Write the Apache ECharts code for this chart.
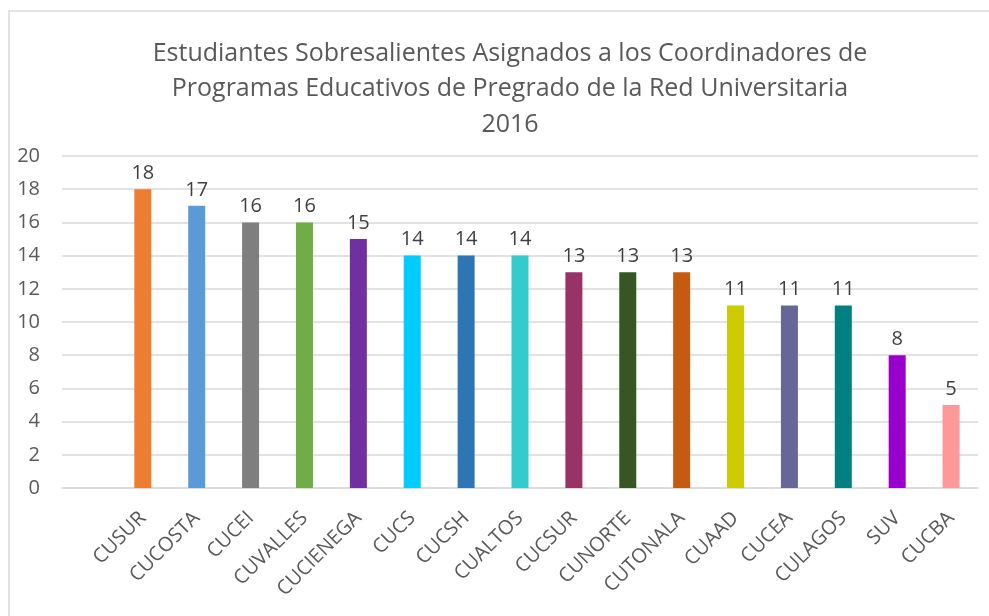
<!DOCTYPE html>
<html>
<head>
<meta charset="utf-8">
<script src="https://cdn.jsdelivr.net/npm/echarts@6/dist/echarts.min.js"></script>
<style>
  html, body { margin: 0; padding: 0; background: #fff; }
  #chart { width: 989px; height: 616px; }
</style>
</head>
<body>
<div id="chart"></div>
<script>
  // first slot is an empty row in the source sheet
  var categories = ['', 'CUSUR', 'CUCOSTA', 'CUCEI', 'CUVALLES', 'CUCIENEGA', 'CUCS', 'CUCSH', 'CUALTOS',
    'CUCSUR', 'CUNORTE', 'CUTONALA', 'CUAAD', 'CUCEA', 'CULAGOS', 'SUV', 'CUCBA'];
  var values = [null, 18, 17, 16, 16, 15, 14, 14, 14, 13, 13, 13, 11, 11, 11, 8, 5];
  var barColors = ['#FFFFFF', '#ED7D31', '#5B9BD5', '#7F7F7F', '#70AD47', '#7030A0', '#00CCFF', '#2E75B6', '#33CCCC',
    '#993366', '#375623', '#C55A11', '#CCCC00', '#666699', '#008080', '#9900CC', '#FF9999'];
  var yTicks = { min: 0, max: 20, interval: 2 };

  var font = "'Open Sans', sans-serif";
  var chart = echarts.init(document.getElementById('chart'));

  chart.setOption({
    backgroundColor: '#FFFFFF',
    animation: false,
    textStyle: { fontFamily: font },
    graphic: [{
      type: 'rect',
      shape: { x: 9, y: 11, width: 1000, height: 700 },
      style: { fill: 'none', stroke: '#D9D9D9', lineWidth: 1.5 },
      silent: true
    }],
    title: {
      text: 'Estudiantes Sobresalientes Asignados a los Coordinadores de\nProgramas Educativos de Pregrado de la Red Universitaria\n2016',
      left: 505,
      textAlign: 'center',
      top: 31,
      textStyle: {
        fontFamily: font,
        fontSize: 25,
        fontWeight: 'normal',
        color: '#595959',
        lineHeight: 35.5
      }
    },
    grid: { left: 62, right: 11, top: 156, bottom: 128 },
    xAxis: {
      type: 'category',
      data: categories,
      axisLine: { lineStyle: { color: '#D9D9D9', width: 1.5 } },
      axisTick: { show: false },
      axisLabel: {
        interval: 0,
        rotate: 45,
        margin: 27,
        fontFamily: font,
        fontSize: 20,
        color: '#595959'
      }
    },
    yAxis: {
      type: 'value',
      min: yTicks.min,
      max: yTicks.max,
      interval: yTicks.interval,
      axisLine: { show: false },
      axisTick: { show: false },
      splitLine: { lineStyle: { color: '#D9D9D9', width: 1.5 } },
      axisLabel: {
        margin: 22,
        fontFamily: font,
        fontSize: 20,
        color: '#595959'
      }
    },
    series: [{
      type: 'bar',
      data: values.map(function (v, i) {
        return { value: v, itemStyle: { color: barColors[i] } };
      }),
      barWidth: 17,
      label: {
        show: true,
        position: 'top',
        distance: 6,
        fontFamily: font,
        fontSize: 20,
        color: '#404040'
      }
    }]
  });
</script>
</body>
</html>
